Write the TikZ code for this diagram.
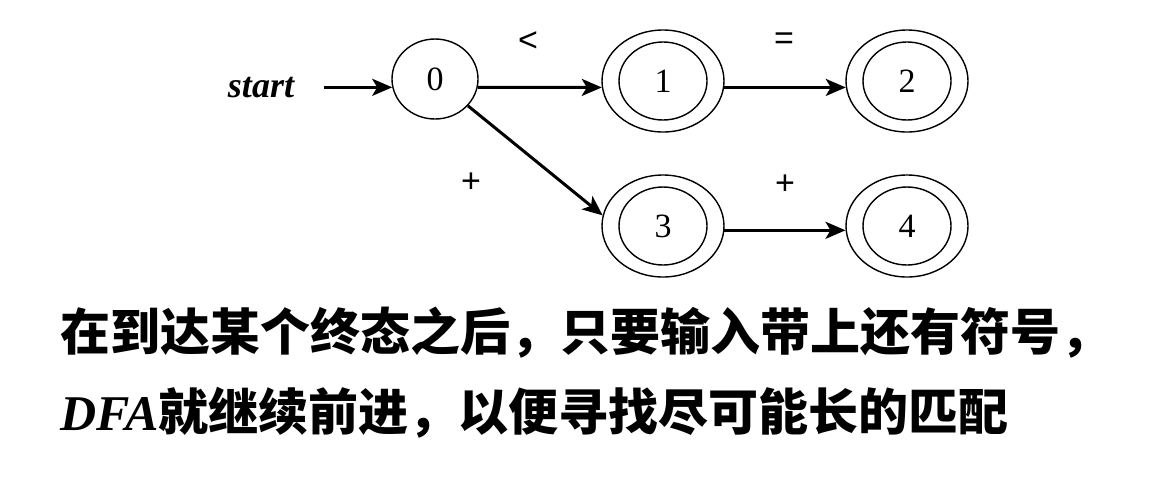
\documentclass[tikz,border=0pt]{standalone}
\usepackage{fontspec}
\setmainfont{Liberation Serif}
\newfontfamily\labelfont{Liberation Sans}
\newfontfamily\cjk{Noto Sans CJK SC}
\usetikzlibrary{arrows.meta, positioning, shapes.geometric}

\tikzset{
  state/.style={ellipse, draw, line width=1.4pt, minimum width=86pt, minimum height=80pt,
    inner sep=0pt, font=\fontsize{34}{36}\selectfont},
  accepting/.style={state, minimum width=122pt, minimum height=102pt},
  trans/.style={line width=3pt, -{Stealth[length=20pt, width=17pt, inset=5pt]}},
  symb/.style={inner sep=0pt, font=\labelfont\fontsize{34}{36}\selectfont},
  remark/.style={anchor=west, inner sep=0pt, font=\cjk\bfseries\fontsize{50}{56}\selectfont}
}

\begin{document}
\begin{tikzpicture}[x=1pt, y=-1pt]
  \useasboundingbox (0,0) rectangle (1172,488);
  % states
  \node[state] (n0) at (435,79) {0};
  \node[accepting] (n1) at (663,81) {1};
  \node[accepting] (n2) at (907,81) {2};
  \node[accepting] (n3) at (663,226) {3};
  \node[accepting] (n4) at (907,226) {4};
  \foreach \n in {n1,n2,n3,n4}
    \draw[line width=1.4pt] (\n) ellipse [x radius=44pt, y radius=39pt];
  % start
  \node[inner sep=0pt, font=\bfseries\itshape\fontsize{36}{40}\selectfont] (start) at (261,88) {start};
  \draw[trans, shorten <=30pt] (n0.191 -| start.east) -- (n0.191);
  % transitions
  \draw[trans] (n0.-11) -- (n1.186);
  \draw[trans] (n1.-6) -- (n2.186);
  \draw[trans] (n0) -- (n3.170);
  \draw[trans] (n3.-4) -- (n4.184);
  \node[symb] (lt) at (528,42) {<};
  \node[symb] (eq) at (784,41) {=};
  \node[symb] (plusA) at (471,183) {+};
  \node[symb] (plusB) at (785,185) {+};
  % remark
  \node[remark] (line1) at (60,333) {在到达某个终态之后，只要输入带上还有符号，};
  \node[remark] (line2) at (60,413) {{\rmfamily\bfseries\itshape DFA}就继续前进，以便寻找尽可能长的匹配};
\end{tikzpicture}
\end{document}
